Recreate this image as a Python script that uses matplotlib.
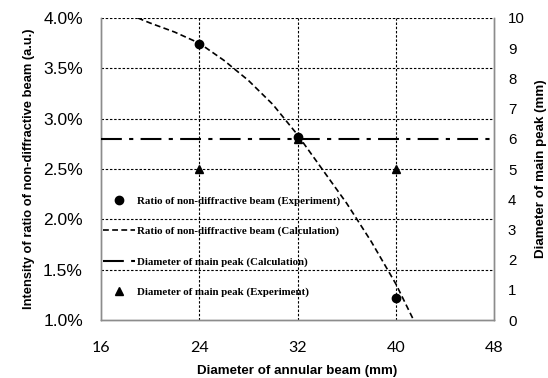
import matplotlib
matplotlib.use("Agg")
import matplotlib.pyplot as plt
from matplotlib.ticker import FuncFormatter

# measured ratio of the non-diffractive beam (%)
exp_diam = [24, 32, 40]
exp_ratio = [3.74, 2.82, 1.22]

# calculated ratio curve (%)
calc_diam = [19.0, 20, 22, 24, 26, 28, 30, 32, 34, 36, 38, 40, 41.45]
calc_ratio = [4.00, 3.95, 3.86, 3.75, 3.58, 3.38, 3.14, 2.84, 2.50, 2.16, 1.78, 1.36, 1.0]

# diameter of the main peak (mm)
peak_calc = 6.0
peak_exp_diam = [24, 32, 40]
peak_exp = [5, 6, 5]

x_ticks = [16, 24, 32, 40, 48]
ratio_ticks = [1.0, 1.5, 2.0, 2.5, 3.0, 3.5, 4.0]
peak_ticks = list(range(0, 11))

sans = "Liberation Sans"
serif = "Liberation Serif"

fig = plt.figure(figsize=(5.48, 3.78), dpi=100)
ax = fig.add_axes([0.1843, 0.1534, 0.7172, 0.799])
ax2 = ax.twinx()

grid_kw = dict(color="black", lw=0.8, dashes=(2.2, 1.6), zorder=1)
for v in [24, 32, 40]:
    ax.axvline(v, **grid_kw)
for v in ratio_ticks[1:]:
    ax.axhline(v, **grid_kw)

l_exp, = ax.plot(exp_diam, exp_ratio, "o", color="black", ms=6, zorder=4,
                 label="Ratio of non-diffractive beam (Experiment)")
l_calc, = ax.plot(calc_diam, calc_ratio, color="black", lw=1.2, dashes=(3.5, 2),
                  zorder=3, label="Ratio of non-diffractive beam (Calculation)")
l_pc = ax2.axhline(peak_calc, color="black", lw=1.5, dashes=(10, 3.5, 2, 3.5),
                   zorder=3, label="Diameter of main peak (Calculation)")
l_pe, = ax2.plot(peak_exp_diam, peak_exp, "^", color="black", ms=6, zorder=4,
                 label="Diameter of main peak (Experiment)")

ax.set_xlim(16, 48)
ax.set_ylim(1.0, 4.0)
ax2.set_ylim(0, 10)
ax.set_xticks(x_ticks)
ax.set_yticks(ratio_ticks)
ax2.set_yticks(peak_ticks)
ax.yaxis.set_major_formatter(FuncFormatter(lambda v, p: f"{v:.1f}%"))

ax.tick_params(axis="y", length=0, labelsize=12.5, pad=13)
ax.tick_params(axis="x", length=0, labelsize=11.5, pad=15)
ax2.tick_params(axis="y", length=0, labelsize=10.8, pad=10)
for lab in ax.get_yticklabels() + ax2.get_yticklabels():
    lab.set_fontfamily(sans)
for lab in ax.get_xticklabels():
    lab.set_fontfamily("Lato")

for a in (ax, ax2):
    a.spines["top"].set_visible(False)
    for s in ("left", "right", "bottom"):
        a.spines[s].set_color("#8c8c8c")
        a.spines[s].set_linewidth(1.0)

ax.set_xlabel("Diameter of annular beam (mm)", fontsize=9.6, fontweight="bold",
              family=sans, labelpad=7)
ax.set_ylabel("Intensity of ratio of non-diffractive beam (a.u.)", fontsize=9.3,
              fontweight="bold", family=sans, labelpad=6)
ax2.set_ylabel("Diameter of main peak (mm)", fontsize=9.6, fontweight="bold",
               family=sans, labelpad=7)

leg = ax2.legend(handles=[l_exp, l_calc, l_pc, l_pe], loc="upper left",
                 bbox_to_anchor=(0.0, 0.4176), frameon=False, borderpad=0,
                 handlelength=2.95, handletextpad=0.2, labelspacing=1.9,
                 borderaxespad=0.2, prop={"family": serif, "weight": "bold", "size": 7.8})

fig.savefig("out.png", dpi=100)
